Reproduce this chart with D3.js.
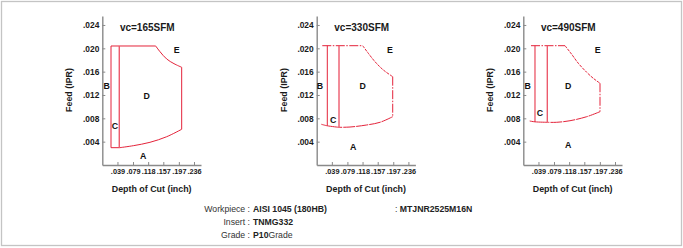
<!DOCTYPE html>
<html><head><meta charset="utf-8">
<script src="https://cdn.jsdelivr.net/npm/d3@7"></script>
<style>
html,body{margin:0;padding:0;background:#fff;}
svg{display:block;font-family:"Liberation Sans",Arial,sans-serif;}
</style></head>
<body><svg id="c" width="683" height="248"></svg>
<script>
// ---------- data (inch units) ----------
const titles = ["vc=165SFM", "vc=330SFM", "vc=490SFM"];
const xTicks = [0.039, 0.079, 0.118, 0.157, 0.197, 0.236];
const xTickLabels = [".039", ".079", ".118", ".157", ".197", ".236"];
const yTicks = [0.004, 0.008, 0.012, 0.016, 0.020, 0.024];
const yTickLabels = [".004", ".008", ".012", ".016", ".020", ".024"];
const regionNames = ["A", "B", "C", "D", "E"];

// vc=165
const top165 = [[0.0224, 0.0204], [0.1374, 0.0204]];
const curveE165 = [[0.1374, 0.0204], [0.1485, 0.01942], [0.1657, 0.01817], [0.1845, 0.01737], [0.2043, 0.01675]];
const right165 = [[0.2043, 0.01675], [0.2043, 0.00612]];
const bottom165 = [[0.2043, 0.00612], [0.1657, 0.00485], [0.1227, 0.00389], [0.0798, 0.00331], [0.0448, 0.00297]];
const bottomLeft165 = [[0.0448, 0.00297], [0.0224, 0.00297]];
const lineB165 = [[0.0224, 0.0204], [0.0224, 0.00297]];
const lineC165 = [[0.0437, 0.0204], [0.0437, 0.00297]];
const labels165 = [[0.1055, 0.00154], [0.0113, 0.01354], [0.0327, 0.00674], [0.1143, 0.01183], [0.1915, 0.01972]];

// vc=330
const top330 = [[0.0144, 0.02045], [0.1184, 0.02045]];
const curveE330 = [[0.1184, 0.02045], [0.1328, 0.01915], [0.1500, 0.01771], [0.1714, 0.01629], [0.1956, 0.01514]];
const right330 = [[0.1956, 0.01514], [0.1956, 0.00828]];
const bottom330 = [[0.1956, 0.00828], [0.1629, 0.00732], [0.1287, 0.00686], [0.0857, 0.00651], [0.0574, 0.00646]];
const bottomLeft330 = [[0.0574, 0.00646], [0.0273, 0.00672], [0.0118, 0.00698]];
const lineB330 = [[0.0273, 0.02045], [0.0273, 0.00672]];
const lineC330 = [[0.0574, 0.02045], [0.0574, 0.00646]];
const labels330 = [[0.0942, 0.00314], [0.0085, 0.01354], [0.0427, 0.00771], [0.1184, 0.01354], [0.1886, 0.01972]];

// vc=490
const top490 = [[0.0198, 0.02045], [0.1073, 0.02045]];
const curveE490 = [[0.1073, 0.02045], [0.1245, 0.01898], [0.1415, 0.01744], [0.1632, 0.01589], [0.1801, 0.01486], [0.1974, 0.01401]];
const right490 = [[0.1974, 0.01401], [0.1974, 0.00914]];
const bottom490 = [[0.1974, 0.00914], [0.1632, 0.00828], [0.1202, 0.00759], [0.0859, 0.00732], [0.0618, 0.00732]];
const bottomLeft490 = [[0.0618, 0.00732], [0.0301, 0.00740], [0.0165, 0.00754]];
const lineB490 = [[0.0301, 0.02045], [0.0301, 0.00740]];
const lineC490 = [[0.0618, 0.02045], [0.0618, 0.00732]];
const labels490 = [[0.1158, 0.00343], [0.0113, 0.01354], [0.0430, 0.00903], [0.1158, 0.01354], [0.1915, 0.01972]];

const infoKeys = ["Workpiece", "Insert", "Grade"];
const infoBold = ["AISI 1045 (180HB)", "TNMG332", "P10"];
const infoRest = ["", "", "Grade"];
const holderText = "MTJNR2525M16N";

// ---------- layout ----------
const svg = d3.select("#c");
const axisX0 = [102.3, 316.7, 523.3];
const plotW = 98.7, yBottom = 165, yTop = 16;
const xDomain = [0, 0.254], yDomain = [0, 0.02554];
const red = "#e4233a";

svg.append("rect").attr("x", 1.5).attr("y", 1.5).attr("width", 680).attr("height", 244)
  .attr("fill", "none").attr("stroke", "#c4c4c4").attr("stroke-width", 1.3);

const sets = [
  {top: top165, e: curveE165, r: right165, b: bottom165, bl: bottomLeft165, B: lineB165, C: lineC165, lab: labels165, dash: null},
  {top: top330, e: curveE330, r: right330, b: bottom330, bl: bottomLeft330, B: lineB330, C: lineC330, lab: labels330, dash: "9,1.5,1.5,1.5"},
  {top: top490, e: curveE490, r: right490, b: bottom490, bl: bottomLeft490, B: lineB490, C: lineC490, lab: labels490, dash: "9,1.5,1.5,1.5"}
];

sets.forEach((s, i) => {
  const x0 = axisX0[i];
  const x = d3.scaleLinear().domain(xDomain).range([x0, x0 + plotW]);
  const y = d3.scaleLinear().domain(yDomain).range([yBottom, yTop]);
  const g = svg.append("g");

  // axes
  const ax = g.append("g").attr("transform", `translate(0,${yBottom})`)
    .call(d3.axisBottom(x).tickValues(xTicks).tickFormat((d, k) => xTickLabels[k]).tickSizeInner(-3).tickSizeOuter(0).tickPadding(4));
  const ay = g.append("g").attr("transform", `translate(${x0},0)`)
    .call(d3.axisLeft(y).tickValues(yTicks).tickFormat((d, k) => yTickLabels[k]).tickSizeInner(-3).tickSizeOuter(0).tickPadding(3));
  [ax, ay].forEach(a => {
    a.select(".domain").attr("stroke", "#8a8a8a").attr("stroke-width", 1.4);
    a.selectAll(".tick line").attr("stroke", "#8a8a8a");
    a.selectAll("text").attr("fill", "#1a1a1a").attr("font-weight", "bold")
      .attr("font-family", "Liberation Sans, Arial, sans-serif");
  });
  ax.selectAll("text").attr("font-size", 7.3);
  ay.selectAll("text").attr("font-size", 8.4);

  // axis titles
  g.append("text").attr("x", x0 + plotW / 2).attr("y", 191.5).attr("text-anchor", "middle")
    .attr("font-size", 8.9).attr("font-weight", "bold").attr("fill", "#1a1a1a").text("Depth of Cut (inch)");
  g.append("text").attr("transform", `translate(${x0 - 30},90) rotate(-90)`).attr("text-anchor", "middle")
    .attr("font-size", 8.9).attr("font-weight", "bold").attr("fill", "#1a1a1a").text("Feed (IPR)");
  g.append("text").attr("x", x0 + 45).attr("y", 30.5).attr("text-anchor", "middle")
    .attr("font-size", 10).attr("font-weight", "bold").attr("fill", "#1a1a1a").text(titles[i]);

  const straight = d3.line().x(d => x(d[0])).y(d => y(d[1]));
  const smooth = d3.line().x(d => x(d[0])).y(d => y(d[1])).curve(d3.curveCatmullRom);

  const draw = (pts, gen, dash, col, w) => g.append("path").attr("d", gen(pts)).attr("fill", "none")
    .attr("stroke", col).attr("stroke-width", w).attr("stroke-dasharray", dash);

  draw(s.top, straight, s.dash, red, 1);
  draw(s.e, smooth, s.dash ? "3,1" : null, red, 1);
  draw(s.r, straight, s.dash, red, 1);
  draw(s.b, smooth, s.dash ? "12,1" : null, red, 1);
  draw(s.bl, smooth, null, red, 1);
  draw(s.B, straight, null, red, 1);
  draw(s.C, straight, null, "#ec5a6c", 1.4);

  g.selectAll(".lab").data(s.lab).enter().append("text")
    .attr("x", d => x(d[0])).attr("y", d => y(d[1]) + 3.2)
    .attr("text-anchor", "middle").attr("font-size", 8.8).attr("font-weight", "bold").attr("fill", "#111")
    .text((d, k) => regionNames[k]);
});

// info block
const infoY = [212, 225, 238];
infoKeys.forEach((k, i) => {
  const t = svg.append("text").attr("y", infoY[i]).attr("font-size", 8.7).attr("fill", "#333");
  t.append("tspan").attr("x", 250).attr("text-anchor", "end").text(k + " :");
  const t2 = svg.append("text").attr("x", 253).attr("y", infoY[i]).attr("font-size", 8.7).attr("fill", "#222");
  t2.append("tspan").attr("font-weight", "bold").text(infoBold[i]);
  t2.append("tspan").attr("fill", "#333").text(infoRest[i]);
});
svg.append("text").attr("x", 395).attr("y", infoY[0]).attr("font-size", 8.7).attr("fill", "#333").text(": ")
  .append("tspan").attr("font-weight", "bold").attr("fill", "#222").text(holderText);
</script></body></html>
